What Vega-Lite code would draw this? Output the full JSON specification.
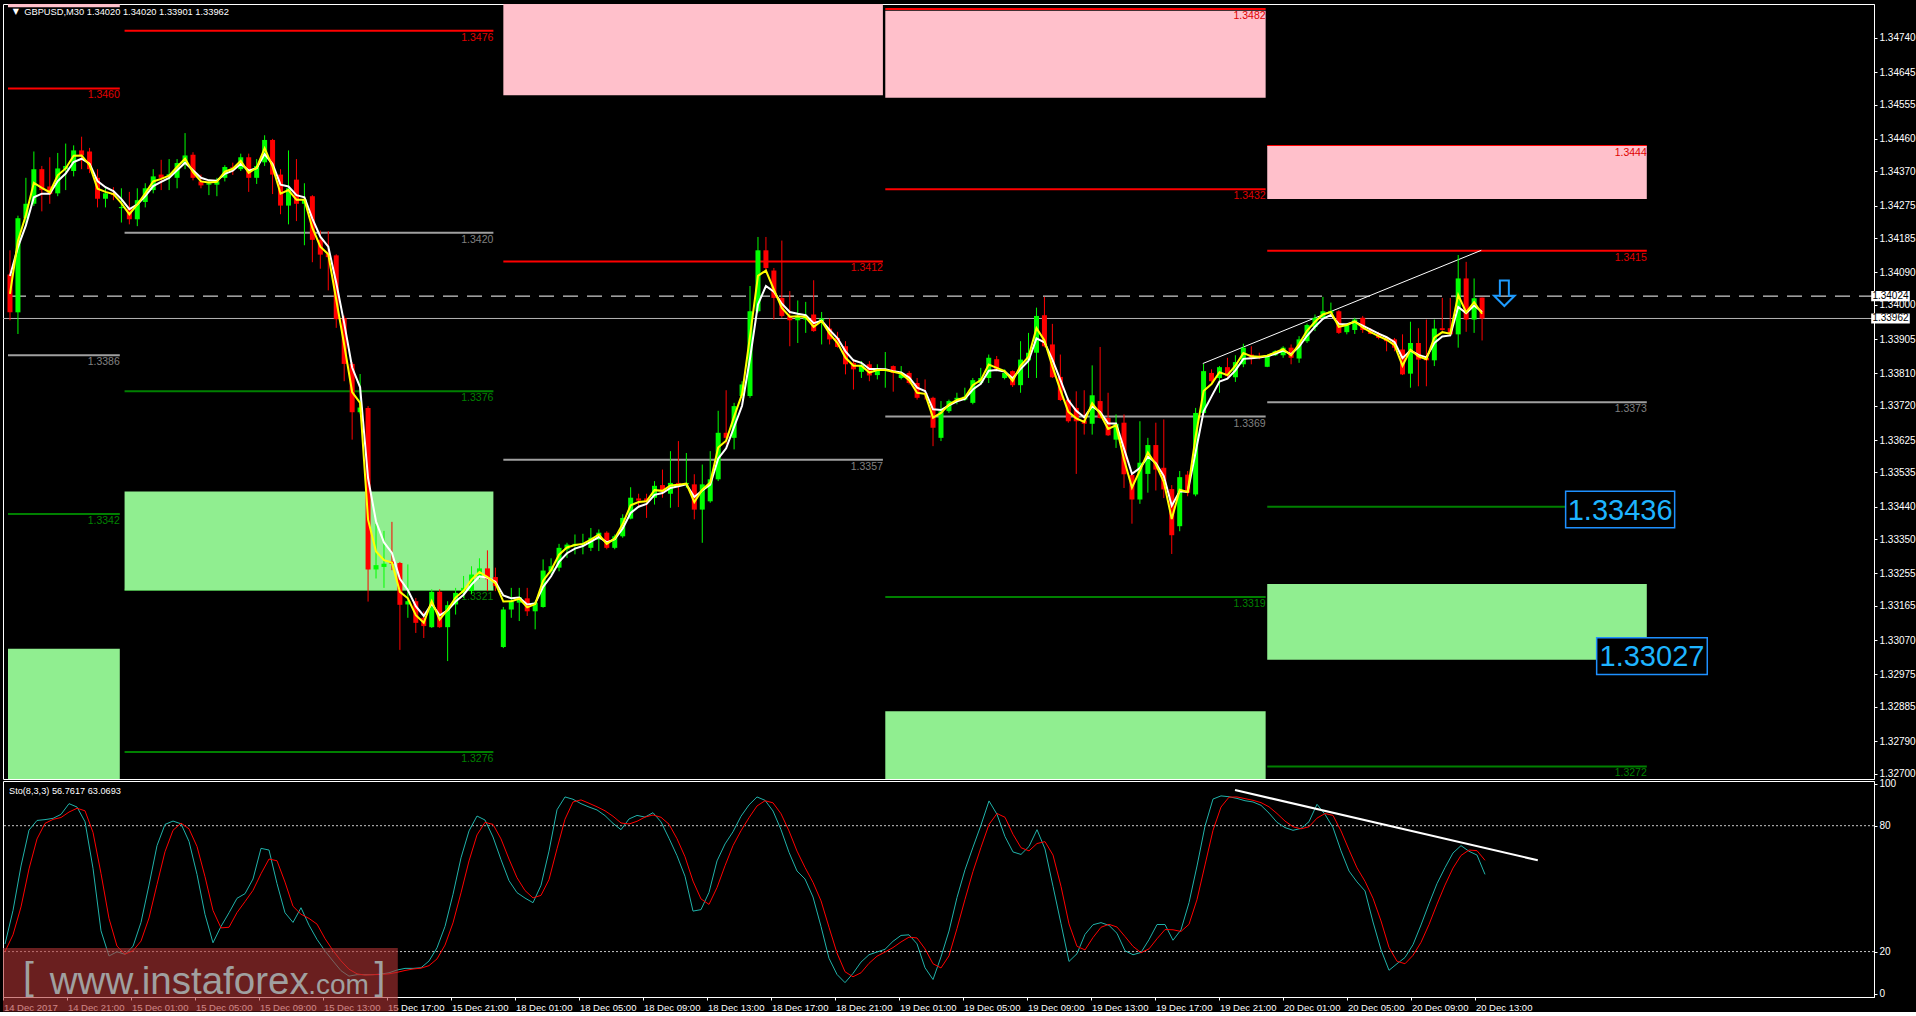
{
"$schema":"https://vega.github.io/schema/vega-lite/v6.json",
"background":"#000000",
"padding":{"left":2,"top":3,"right":0,"bottom":0},
"spacing":2,
"bounds":"flush",
"config":{"font":"Liberation Sans","view":{"stroke":"#ffffff","strokeWidth":1},"axis":{"grid":false,"labelColor":"#ffffff","tickColor":"#ffffff","domainColor":"#ffffff","labelFontSize":10,"tickSize":3,"labelPadding":2,"labelFont":"Liberation Sans"},"concat":{"spacing":2}},
"datasets":{
"bars":[
{"i":0,"o":1.34084,"h":1.34151,"l":1.33957,"c":1.33979,"f":1.3403,"s":1.3408,"k":23.6,"d":20},
{"i":1,"o":1.33979,"h":1.34247,"l":1.33919,"c":1.3424,"f":1.34177,"s":1.3416,"k":39.6,"d":28},
{"i":2,"o":1.3424,"h":1.34352,"l":1.34218,"c":1.3428,"f":1.34249,"s":1.3422,"k":60.8,"d":41.3},
{"i":3,"o":1.3428,"h":1.34425,"l":1.34274,"c":1.34376,"f":1.34338,"s":1.34298,"k":77.9,"d":59.4},
{"i":4,"o":1.34376,"h":1.34385,"l":1.34259,"c":1.34318,"f":1.34324,"s":1.34308,"k":82.5,"d":73.7},
{"i":5,"o":1.34328,"h":1.34409,"l":1.3428,"c":1.34307,"f":1.34312,"s":1.34308,"k":82.9,"d":81.1},
{"i":6,"o":1.34309,"h":1.34421,"l":1.34301,"c":1.34378,"f":1.34359,"s":1.34343,"k":83.5,"d":83},
{"i":7,"o":1.34376,"h":1.34447,"l":1.34318,"c":1.34385,"f":1.34378,"s":1.34364,"k":85.4,"d":83.9},
{"i":8,"o":1.34371,"h":1.34442,"l":1.34356,"c":1.34428,"f":1.34413,"s":1.34396,"k":90.5,"d":86.5},
{"i":9,"o":1.34428,"h":1.34466,"l":1.34376,"c":1.34414,"f":1.34414,"s":1.34405,"k":88.9,"d":88.3},
{"i":10,"o":1.34425,"h":1.34435,"l":1.34365,"c":1.34376,"f":1.34387,"s":1.34391,"k":81.9,"d":87.1},
{"i":11,"o":1.34352,"h":1.34376,"l":1.3427,"c":1.34294,"f":1.34322,"s":1.34343,"k":59.7,"d":76.8},
{"i":12,"o":1.34294,"h":1.34323,"l":1.3427,"c":1.34309,"f":1.34313,"s":1.34326,"k":29.9,"d":57.2},
{"i":13,"o":1.3431,"h":1.34326,"l":1.3429,"c":1.34304,"f":1.34307,"s":1.34315,"k":17.9,"d":35.8},
{"i":14,"o":1.34268,"h":1.34323,"l":1.34228,"c":1.34271,"f":1.34282,"s":1.34293,"k":19.9,"d":22.6},
{"i":15,"o":1.34266,"h":1.34313,"l":1.34223,"c":1.34237,"f":1.34251,"s":1.34265,"k":18.7,"d":18.8},
{"i":16,"o":1.34237,"h":1.34323,"l":1.34218,"c":1.3429,"f":1.34278,"s":1.34278,"k":22.5,"d":20.4},
{"i":17,"o":1.34285,"h":1.34337,"l":1.3427,"c":1.34323,"f":1.34309,"s":1.34301,"k":33.9,"d":25},
{"i":18,"o":1.34318,"h":1.34376,"l":1.34309,"c":1.34356,"f":1.34342,"s":1.34329,"k":51.7,"d":36},
{"i":19,"o":1.34361,"h":1.34402,"l":1.34318,"c":1.34352,"f":1.34349,"s":1.34341,"k":70.5,"d":52},
{"i":20,"o":1.34358,"h":1.34404,"l":1.34318,"c":1.34362,"f":1.34358,"s":1.34352,"k":80.6,"d":67.6},
{"i":21,"o":1.34352,"h":1.34404,"l":1.34323,"c":1.34393,"f":1.34382,"s":1.34373,"k":82.2,"d":77.8},
{"i":22,"o":1.3439,"h":1.34476,"l":1.34376,"c":1.34414,"f":1.34405,"s":1.34394,"k":80.9,"d":81.2},
{"i":23,"o":1.34416,"h":1.34423,"l":1.34345,"c":1.34352,"f":1.34368,"s":1.34373,"k":72.5,"d":78.5},
{"i":24,"o":1.34342,"h":1.34361,"l":1.34323,"c":1.34331,"f":1.34342,"s":1.34352,"k":56.8,"d":70.1},
{"i":25,"o":1.34333,"h":1.34347,"l":1.34304,"c":1.34337,"f":1.34339,"s":1.34345,"k":37.7,"d":55.7},
{"i":26,"o":1.34333,"h":1.34352,"l":1.34301,"c":1.34342,"f":1.34341,"s":1.34344,"k":24.2,"d":39.6},
{"i":27,"o":1.34352,"h":1.34387,"l":1.34342,"c":1.34382,"f":1.34369,"s":1.34363,"k":32,"d":31.3},
{"i":28,"o":1.34382,"h":1.34394,"l":1.3436,"c":1.3438,"f":1.34377,"s":1.34372,"k":38.5,"d":31.6},
{"i":29,"o":1.34376,"h":1.34419,"l":1.34371,"c":1.34409,"f":1.34399,"s":1.34391,"k":45.4,"d":38.6},
{"i":30,"o":1.34409,"h":1.34419,"l":1.34313,"c":1.34352,"f":1.34366,"s":1.34372,"k":47.6,"d":43.8},
{"i":31,"o":1.34352,"h":1.34404,"l":1.34335,"c":1.34385,"f":1.3438,"s":1.34379,"k":54.6,"d":49.2},
{"i":32,"o":1.34395,"h":1.3447,"l":1.34385,"c":1.34457,"f":1.34434,"s":1.34418,"k":69.2,"d":57.1},
{"i":33,"o":1.34457,"h":1.3446,"l":1.34307,"c":1.34361,"f":1.34383,"s":1.3439,"k":68.4,"d":64.1},
{"i":34,"o":1.34361,"h":1.34376,"l":1.34251,"c":1.34275,"f":1.34308,"s":1.34333,"k":52.4,"d":63.3},
{"i":35,"o":1.34275,"h":1.34428,"l":1.34223,"c":1.34323,"f":1.34318,"s":1.34328,"k":38.5,"d":53.1},
{"i":36,"o":1.34347,"h":1.34404,"l":1.34232,"c":1.3428,"f":1.34291,"s":1.34304,"k":33.9,"d":41.6},
{"i":37,"o":1.3428,"h":1.34337,"l":1.34165,"c":1.34292,"f":1.34291,"s":1.34298,"k":40.9,"d":37.8},
{"i":38,"o":1.34301,"h":1.34304,"l":1.34118,"c":1.3418,"f":1.34213,"s":1.34239,"k":32.6,"d":35.8},
{"i":39,"o":1.3418,"h":1.34206,"l":1.341,"c":1.34139,"f":1.34161,"s":1.34189,"k":25.8,"d":33.1},
{"i":40,"o":1.34141,"h":1.34204,"l":1.3404,"c":1.34132,"f":1.3414,"s":1.34161,"k":20.3,"d":26.2},
{"i":41,"o":1.34137,"h":1.3414,"l":1.33936,"c":1.3396,"f":1.34014,"s":1.34061,"k":15.5,"d":20.5},
{"i":42,"o":1.33963,"h":1.3397,"l":1.33788,"c":1.33836,"f":1.33889,"s":1.33949,"k":10.9,"d":15.6},
{"i":43,"o":1.33836,"h":1.33841,"l":1.33626,"c":1.33702,"f":1.33758,"s":1.33826,"k":8.3,"d":11.6},
{"i":44,"o":1.33702,"h":1.33808,"l":1.33698,"c":1.33715,"f":1.33728,"s":1.33771,"k":9,"d":9.4},
{"i":45,"o":1.33714,"h":1.33719,"l":1.33177,"c":1.33266,"f":1.33404,"s":1.33519,"k":9,"d":8.8},
{"i":46,"o":1.33266,"h":1.33392,"l":1.33241,"c":1.33278,"f":1.33316,"s":1.33399,"k":9,"d":9},
{"i":47,"o":1.33273,"h":1.33373,"l":1.33215,"c":1.33282,"f":1.33292,"s":1.33341,"k":9.3,"d":9.1},
{"i":48,"o":1.33289,"h":1.33398,"l":1.33264,"c":1.33282,"f":1.33285,"s":1.33312,"k":9.9,"d":9.4},
{"i":49,"o":1.33284,"h":1.33287,"l":1.33043,"c":1.33168,"f":1.33204,"s":1.3324,"k":11.2,"d":10.1},
{"i":50,"o":1.33169,"h":1.3328,"l":1.33132,"c":1.33178,"f":1.33186,"s":1.33209,"k":12,"d":11},
{"i":51,"o":1.33178,"h":1.33187,"l":1.3309,"c":1.33118,"f":1.33139,"s":1.33164,"k":12,"d":11.7},
{"i":52,"o":1.33132,"h":1.3315,"l":1.33076,"c":1.33109,"f":1.33118,"s":1.33137,"k":12.3,"d":12.1},
{"i":53,"o":1.33106,"h":1.33211,"l":1.33104,"c":1.33204,"f":1.33178,"s":1.33171,"k":15.5,"d":13.3},
{"i":54,"o":1.33204,"h":1.33211,"l":1.33104,"c":1.33106,"f":1.33127,"s":1.33139,"k":21.8,"d":16.5},
{"i":55,"o":1.33106,"h":1.33178,"l":1.33012,"c":1.33167,"f":1.33155,"s":1.33153,"k":32,"d":23.1},
{"i":56,"o":1.33169,"h":1.33215,"l":1.33141,"c":1.33201,"f":1.33188,"s":1.33177,"k":47.3,"d":33.7},
{"i":57,"o":1.33201,"h":1.33248,"l":1.33187,"c":1.33215,"f":1.33207,"s":1.33196,"k":64.7,"d":48},
{"i":58,"o":1.33206,"h":1.33275,"l":1.33197,"c":1.33252,"f":1.33238,"s":1.33224,"k":77.5,"d":63.2},
{"i":59,"o":1.33248,"h":1.33297,"l":1.33239,"c":1.33269,"f":1.33259,"s":1.33247,"k":84.6,"d":75.6},
{"i":60,"o":1.33269,"h":1.33319,"l":1.33206,"c":1.33239,"f":1.33245,"s":1.33243,"k":82.7,"d":81.6},
{"i":61,"o":1.33245,"h":1.33271,"l":1.33206,"c":1.3322,"f":1.33228,"s":1.33232,"k":74.6,"d":80.6},
{"i":62,"o":1.33051,"h":1.33162,"l":1.33048,"c":1.33155,"f":1.33177,"s":1.33194,"k":63.8,"d":73.7},
{"i":63,"o":1.33155,"h":1.33215,"l":1.33132,"c":1.33178,"f":1.33178,"s":1.33186,"k":53.8,"d":64.1},
{"i":64,"o":1.33174,"h":1.33215,"l":1.33123,"c":1.33189,"f":1.33185,"s":1.33188,"k":48.1,"d":55.2},
{"i":65,"o":1.33186,"h":1.33215,"l":1.33137,"c":1.3315,"f":1.33161,"s":1.33169,"k":45.5,"d":49.1},
{"i":66,"o":1.3315,"h":1.33178,"l":1.331,"c":1.33174,"f":1.3317,"s":1.33172,"k":43.3,"d":45.6},
{"i":67,"o":1.33162,"h":1.33294,"l":1.3316,"c":1.33263,"f":1.33235,"s":1.33218,"k":51.6,"d":46.8},
{"i":68,"o":1.33261,"h":1.33297,"l":1.33252,"c":1.33275,"f":1.33264,"s":1.33247,"k":67.9,"d":54.3},
{"i":69,"o":1.33271,"h":1.33337,"l":1.33261,"c":1.33326,"f":1.33307,"s":1.33287,"k":87.6,"d":69},
{"i":70,"o":1.33322,"h":1.3334,"l":1.33298,"c":1.33335,"f":1.33327,"s":1.33311,"k":93.7,"d":83.1},
{"i":71,"o":1.33331,"h":1.33363,"l":1.33308,"c":1.33337,"f":1.33334,"s":1.33324,"k":92.6,"d":91.3},
{"i":72,"o":1.33334,"h":1.33365,"l":1.33308,"c":1.33338,"f":1.33337,"s":1.33331,"k":90.5,"d":92.3},
{"i":73,"o":1.33326,"h":1.33381,"l":1.33317,"c":1.33354,"f":1.33349,"s":1.33343,"k":88.9,"d":90.7},
{"i":74,"o":1.33349,"h":1.33377,"l":1.33317,"c":1.33368,"f":1.33363,"s":1.33356,"k":87.5,"d":89},
{"i":75,"o":1.33368,"h":1.33372,"l":1.33322,"c":1.33326,"f":1.33337,"s":1.33341,"k":84.8,"d":87.1},
{"i":76,"o":1.33326,"h":1.33363,"l":1.33322,"c":1.33358,"f":1.33352,"s":1.3335,"k":81.1,"d":84.5},
{"i":77,"o":1.33358,"h":1.33419,"l":1.33354,"c":1.33409,"f":1.33392,"s":1.3338,"k":78.1,"d":81.3},
{"i":78,"o":1.33407,"h":1.33494,"l":1.33405,"c":1.33465,"f":1.33444,"s":1.33423,"k":83.2,"d":80.8},
{"i":79,"o":1.33463,"h":1.33476,"l":1.33442,"c":1.33457,"f":1.33453,"s":1.3344,"k":84.9,"d":82.1},
{"i":80,"o":1.33463,"h":1.33476,"l":1.33409,"c":1.33455,"f":1.33455,"s":1.33448,"k":84.1,"d":84.1},
{"i":81,"o":1.33465,"h":1.33511,"l":1.33446,"c":1.33498,"f":1.33486,"s":1.33473,"k":86.2,"d":85.1},
{"i":82,"o":1.335,"h":1.33543,"l":1.33465,"c":1.33483,"f":1.33484,"s":1.33478,"k":81.8,"d":84},
{"i":83,"o":1.33476,"h":1.33594,"l":1.33437,"c":1.33506,"f":1.33499,"s":1.33492,"k":74,"d":80.7},
{"i":84,"o":1.33506,"h":1.33622,"l":1.33439,"c":1.33502,"f":1.33501,"s":1.33497,"k":65.7,"d":73.8},
{"i":85,"o":1.33502,"h":1.33589,"l":1.33492,"c":1.33506,"f":1.33504,"s":1.33502,"k":55.9,"d":65.2},
{"i":86,"o":1.33502,"h":1.3353,"l":1.33405,"c":1.33432,"f":1.33453,"s":1.33467,"k":39.3,"d":53.6},
{"i":87,"o":1.33432,"h":1.33557,"l":1.3334,"c":1.33502,"f":1.33487,"s":1.33485,"k":40,"d":45.1},
{"i":88,"o":1.33455,"h":1.33594,"l":1.33451,"c":1.33516,"f":1.33507,"s":1.33501,"k":48.2,"d":42.5},
{"i":89,"o":1.33516,"h":1.33706,"l":1.33511,"c":1.33645,"f":1.33604,"s":1.33573,"k":63.2,"d":50.5},
{"i":90,"o":1.33645,"h":1.33763,"l":1.33613,"c":1.33631,"f":1.33623,"s":1.33602,"k":71.3,"d":60.9},
{"i":91,"o":1.33631,"h":1.33728,"l":1.33599,"c":1.33719,"f":1.3369,"s":1.33661,"k":77.1,"d":70.5},
{"i":92,"o":1.33747,"h":1.33788,"l":1.33742,"c":1.33779,"f":1.33752,"s":1.3372,"k":84.5,"d":77.6},
{"i":93,"o":1.33747,"h":1.34052,"l":1.33742,"c":1.33982,"f":1.33913,"s":1.33851,"k":89.9,"d":83.8},
{"i":94,"o":1.33982,"h":1.34188,"l":1.33978,"c":1.34151,"f":1.3408,"s":1.34001,"k":93.7,"d":89.4},
{"i":95,"o":1.34151,"h":1.34188,"l":1.34093,"c":1.34102,"f":1.34095,"s":1.34052,"k":92.1,"d":91.9},
{"i":96,"o":1.34095,"h":1.34102,"l":1.33959,"c":1.34019,"f":1.34042,"s":1.34036,"k":87,"d":90.9},
{"i":97,"o":1.34019,"h":1.34178,"l":1.33964,"c":1.33969,"f":1.33991,"s":1.34003,"k":78.1,"d":85.7},
{"i":98,"o":1.33969,"h":1.34038,"l":1.33885,"c":1.33957,"f":1.33967,"s":1.3398,"k":67.3,"d":77.5},
{"i":99,"o":1.33957,"h":1.34012,"l":1.33894,"c":1.33969,"f":1.33968,"s":1.33975,"k":58.4,"d":67.9},
{"i":100,"o":1.33959,"h":1.34008,"l":1.33922,"c":1.33966,"f":1.33966,"s":1.33971,"k":54.6,"d":60.1},
{"i":101,"o":1.33973,"h":1.34068,"l":1.33925,"c":1.33927,"f":1.33939,"s":1.33949,"k":46,"d":53},
{"i":102,"o":1.33955,"h":1.3398,"l":1.3389,"c":1.33962,"f":1.33955,"s":1.33956,"k":32,"d":44.2},
{"i":103,"o":1.33934,"h":1.33962,"l":1.3389,"c":1.33904,"f":1.3392,"s":1.3393,"k":16.8,"d":31.6},
{"i":104,"o":1.33908,"h":1.33925,"l":1.33881,"c":1.33883,"f":1.33894,"s":1.33907,"k":9.1,"d":19.3},
{"i":105,"o":1.33885,"h":1.33899,"l":1.33807,"c":1.33835,"f":1.33853,"s":1.33871,"k":5.2,"d":10.4},
{"i":106,"o":1.33839,"h":1.33844,"l":1.33765,"c":1.33821,"f":1.33831,"s":1.33846,"k":9.6,"d":8},
{"i":107,"o":1.33814,"h":1.33844,"l":1.33797,"c":1.33832,"f":1.33831,"s":1.33839,"k":15,"d":9.9},
{"i":108,"o":1.33835,"h":1.33844,"l":1.33788,"c":1.33804,"f":1.33812,"s":1.33822,"k":18.5,"d":14.4},
{"i":109,"o":1.33805,"h":1.33835,"l":1.33793,"c":1.33821,"f":1.33819,"s":1.33822,"k":19.8,"d":17.8},
{"i":110,"o":1.33818,"h":1.33869,"l":1.3377,"c":1.33822,"f":1.33819,"s":1.33821,"k":21.1,"d":19.8},
{"i":111,"o":1.3383,"h":1.33832,"l":1.33759,"c":1.33811,"f":1.33814,"s":1.33816,"k":24.9,"d":21.9},
{"i":112,"o":1.33797,"h":1.3383,"l":1.33793,"c":1.33807,"f":1.33809,"s":1.33812,"k":27.7,"d":24.6},
{"i":113,"o":1.33811,"h":1.33816,"l":1.33779,"c":1.33783,"f":1.33791,"s":1.33798,"k":28,"d":26.9},
{"i":114,"o":1.33783,"h":1.33797,"l":1.33737,"c":1.33742,"f":1.33756,"s":1.3377,"k":23.7,"d":26.5},
{"i":115,"o":1.33755,"h":1.33793,"l":1.33737,"c":1.33752,"f":1.33753,"s":1.33761,"k":12.3,"d":21.3},
{"i":116,"o":1.33742,"h":1.33745,"l":1.33608,"c":1.33659,"f":1.33687,"s":1.3371,"k":6.7,"d":14.2},
{"i":117,"o":1.33631,"h":1.33733,"l":1.33622,"c":1.33705,"f":1.337,"s":1.33708,"k":17.5,"d":12.2},
{"i":118,"o":1.33705,"h":1.33737,"l":1.337,"c":1.33733,"f":1.33723,"s":1.33721,"k":29.8,"d":18},
{"i":119,"o":1.33737,"h":1.33756,"l":1.33724,"c":1.33742,"f":1.33736,"s":1.33732,"k":45.8,"d":31},
{"i":120,"o":1.33737,"h":1.3377,"l":1.33733,"c":1.33745,"f":1.33743,"s":1.33739,"k":59,"d":44.9},
{"i":121,"o":1.33728,"h":1.33797,"l":1.33724,"c":1.33791,"f":1.33777,"s":1.33765,"k":69.8,"d":58.2},
{"i":122,"o":1.33783,"h":1.33825,"l":1.33779,"c":1.33797,"f":1.33791,"s":1.33781,"k":80.3,"d":69.7},
{"i":123,"o":1.33797,"h":1.33862,"l":1.33783,"c":1.33853,"f":1.33834,"s":1.33817,"k":91.8,"d":80.6},
{"i":124,"o":1.33849,"h":1.33858,"l":1.33816,"c":1.33821,"f":1.33825,"s":1.33819,"k":85.4,"d":85.8},
{"i":125,"o":1.33797,"h":1.33821,"l":1.33793,"c":1.33811,"f":1.33816,"s":1.33815,"k":74.8,"d":84},
{"i":126,"o":1.33816,"h":1.33818,"l":1.33772,"c":1.33777,"f":1.33789,"s":1.33796,"k":67.5,"d":75.9},
{"i":127,"o":1.33777,"h":1.33899,"l":1.33756,"c":1.33848,"f":1.33831,"s":1.33822,"k":66.3,"d":69.5},
{"i":128,"o":1.33846,"h":1.33922,"l":1.33797,"c":1.33867,"f":1.33856,"s":1.33845,"k":70.1,"d":68},
{"i":129,"o":1.33867,"h":1.33992,"l":1.33797,"c":1.33969,"f":1.33935,"s":1.33907,"k":78.1,"d":71.5},
{"i":130,"o":1.33971,"h":1.34022,"l":1.33882,"c":1.33885,"f":1.33901,"s":1.33896,"k":68.9,"d":72.4},
{"i":131,"o":1.3389,"h":1.33947,"l":1.33797,"c":1.33799,"f":1.33829,"s":1.33848,"k":51.1,"d":66},
{"i":132,"o":1.338,"h":1.33862,"l":1.33733,"c":1.33736,"f":1.33764,"s":1.33792,"k":33.3,"d":51.1},
{"i":133,"o":1.33737,"h":1.33742,"l":1.33673,"c":1.33677,"f":1.33703,"s":1.33735,"k":15.3,"d":33.2},
{"i":134,"o":1.33714,"h":1.3376,"l":1.33531,"c":1.33677,"f":1.33685,"s":1.33706,"k":19,"d":22.5},
{"i":135,"o":1.33679,"h":1.33763,"l":1.3364,"c":1.3367,"f":1.33675,"s":1.33688,"k":28.2,"d":20.8},
{"i":136,"o":1.3367,"h":1.33832,"l":1.3364,"c":1.33749,"f":1.33727,"s":1.33719,"k":32.8,"d":26.7},
{"i":137,"o":1.33733,"h":1.33883,"l":1.33684,"c":1.33686,"f":1.33698,"s":1.33703,"k":33.8,"d":31.6},
{"i":138,"o":1.33686,"h":1.33756,"l":1.33636,"c":1.33638,"f":1.33656,"s":1.33671,"k":32.5,"d":33},
{"i":139,"o":1.33626,"h":1.33696,"l":1.33603,"c":1.3367,"f":1.33666,"s":1.33671,"k":28.7,"d":31.7},
{"i":140,"o":1.33673,"h":1.33696,"l":1.33492,"c":1.3353,"f":1.33571,"s":1.33601,"k":20.4,"d":27.2},
{"i":141,"o":1.33528,"h":1.33532,"l":1.33393,"c":1.3346,"f":1.33493,"s":1.33531,"k":18.5,"d":22.5},
{"i":142,"o":1.3346,"h":1.33677,"l":1.33448,"c":1.33562,"f":1.33541,"s":1.33547,"k":19.6,"d":19.5},
{"i":143,"o":1.33531,"h":1.33631,"l":1.33479,"c":1.33611,"f":1.3359,"s":1.33579,"k":25.7,"d":21.3},
{"i":144,"o":1.33611,"h":1.33673,"l":1.33485,"c":1.33543,"f":1.33557,"s":1.33561,"k":32.9,"d":26.1},
{"i":145,"o":1.33548,"h":1.33682,"l":1.33464,"c":1.33488,"f":1.33509,"s":1.33525,"k":32.9,"d":30.5},
{"i":146,"o":1.33489,"h":1.335,"l":1.33309,"c":1.33361,"f":1.33406,"s":1.33443,"k":25.4,"d":30.4},
{"i":147,"o":1.33386,"h":1.33539,"l":1.33372,"c":1.33522,"f":1.33487,"s":1.33483,"k":30.4,"d":29.6},
{"i":148,"o":1.33529,"h":1.33539,"l":1.33469,"c":1.33479,"f":1.33481,"s":1.33481,"k":43.3,"d":33},
{"i":149,"o":1.33474,"h":1.33714,"l":1.33469,"c":1.337,"f":1.33634,"s":1.33591,"k":60.8,"d":44.8},
{"i":150,"o":1.337,"h":1.33836,"l":1.33696,"c":1.33816,"f":1.33761,"s":1.33704,"k":79.8,"d":61.3},
{"i":151,"o":1.33811,"h":1.33821,"l":1.33784,"c":1.33788,"f":1.3378,"s":1.33746,"k":92.7,"d":77.8},
{"i":152,"o":1.33797,"h":1.3383,"l":1.33756,"c":1.33827,"f":1.33813,"s":1.33787,"k":94.2,"d":88.9},
{"i":153,"o":1.33827,"h":1.33853,"l":1.33797,"c":1.33802,"f":1.33805,"s":1.33795,"k":93.8,"d":93.6},
{"i":154,"o":1.33799,"h":1.3386,"l":1.33786,"c":1.33841,"f":1.33831,"s":1.33818,"k":93,"d":93.7},
{"i":155,"o":1.33835,"h":1.33892,"l":1.33827,"c":1.33881,"f":1.33866,"s":1.3385,"k":91.9,"d":92.9},
{"i":156,"o":1.33862,"h":1.33885,"l":1.33835,"c":1.33853,"f":1.33857,"s":1.33852,"k":91.3,"d":92.1},
{"i":157,"o":1.33858,"h":1.33867,"l":1.33849,"c":1.33855,"f":1.33856,"s":1.33854,"k":89.7,"d":91},
{"i":158,"o":1.33828,"h":1.33862,"l":1.33827,"c":1.3386,"f":1.33859,"s":1.33857,"k":86,"d":89},
{"i":159,"o":1.3386,"h":1.33874,"l":1.33858,"c":1.33871,"f":1.33868,"s":1.33864,"k":81.6,"d":85.8},
{"i":160,"o":1.3386,"h":1.33885,"l":1.33853,"c":1.33881,"f":1.33877,"s":1.33873,"k":79.1,"d":82.2},
{"i":161,"o":1.33881,"h":1.3389,"l":1.33835,"c":1.33853,"f":1.3386,"s":1.33863,"k":77.8,"d":79.5},
{"i":162,"o":1.33851,"h":1.33913,"l":1.33839,"c":1.33904,"f":1.33891,"s":1.33884,"k":78.7,"d":78.5},
{"i":163,"o":1.33899,"h":1.33948,"l":1.33894,"c":1.33944,"f":1.33928,"s":1.33914,"k":81.9,"d":79.5},
{"i":164,"o":1.33938,"h":1.33973,"l":1.33927,"c":1.33964,"f":1.33953,"s":1.33939,"k":90.2,"d":83.6},
{"i":165,"o":1.33964,"h":1.34022,"l":1.33959,"c":1.33982,"f":1.33973,"s":1.33961,"k":85.4,"d":85.8},
{"i":166,"o":1.33978,"h":1.34006,"l":1.33973,"c":1.33983,"f":1.3398,"s":1.33972,"k":79.1,"d":84.9},
{"i":167,"o":1.33982,"h":1.33985,"l":1.33919,"c":1.33922,"f":1.33939,"s":1.33947,"k":68,"d":77.5},
{"i":168,"o":1.33924,"h":1.33948,"l":1.33918,"c":1.33945,"f":1.33944,"s":1.33946,"k":58.4,"d":68.5},
{"i":169,"o":1.3393,"h":1.33964,"l":1.33919,"c":1.33959,"f":1.33954,"s":1.33953,"k":53.2,"d":59.9},
{"i":170,"o":1.33964,"h":1.33969,"l":1.33922,"c":1.3393,"f":1.33937,"s":1.33942,"k":48.9,"d":53.5},
{"i":171,"o":1.3393,"h":1.33935,"l":1.33918,"c":1.33919,"f":1.33924,"s":1.33931,"k":34.1,"d":45.4},
{"i":172,"o":1.33919,"h":1.33925,"l":1.33904,"c":1.33908,"f":1.33913,"s":1.3392,"k":20.9,"d":34.6},
{"i":173,"o":1.33908,"h":1.33913,"l":1.33871,"c":1.33899,"f":1.33903,"s":1.3391,"k":11.1,"d":22},
{"i":174,"o":1.33904,"h":1.33908,"l":1.33871,"c":1.33881,"f":1.33888,"s":1.33896,"k":14.2,"d":15.4},
{"i":175,"o":1.33876,"h":1.33918,"l":1.33805,"c":1.33807,"f":1.33831,"s":1.33852,"k":17.2,"d":14.2},
{"i":176,"o":1.33809,"h":1.33953,"l":1.3377,"c":1.33894,"f":1.33875,"s":1.33873,"k":23.3,"d":18.2},
{"i":177,"o":1.33894,"h":1.33935,"l":1.33774,"c":1.33848,"f":1.33857,"s":1.33861,"k":32.7,"d":24.4},
{"i":178,"o":1.33853,"h":1.33959,"l":1.33774,"c":1.33846,"f":1.33849,"s":1.33854,"k":42.8,"d":32.9},
{"i":179,"o":1.33846,"h":1.33959,"l":1.3383,"c":1.33934,"f":1.33909,"s":1.33894,"k":52.4,"d":42.6},
{"i":180,"o":1.33935,"h":1.34019,"l":1.33928,"c":1.3393,"f":1.33924,"s":1.33912,"k":60,"d":51.7},
{"i":181,"o":1.33935,"h":1.34019,"l":1.33913,"c":1.33918,"f":1.3392,"s":1.33915,"k":67,"d":59.8},
{"i":182,"o":1.33918,"h":1.34138,"l":1.33881,"c":1.34073,"f":1.34027,"s":1.33994,"k":70.5,"d":65.8},
{"i":183,"o":1.34073,"h":1.34119,"l":1.33925,"c":1.33959,"f":1.33979,"s":1.33977,"k":67.8,"d":68.4},
{"i":184,"o":1.33959,"h":1.34073,"l":1.33922,"c":1.34018,"f":1.34007,"s":1.33998,"k":66,"d":68.1},
{"i":185,"o":1.3402,"h":1.3402,"l":1.33901,"c":1.33962,"f":1.33975,"s":1.3398,"k":56.8,"d":63.5}
],
"levels":[
{"x1":-0.25,"x2":13.8,"p":1.346,"k":"r","t":"1.3460"},
{"x1":-0.25,"x2":13.8,"p":1.3386,"k":"g","t":"1.3386"},
{"x1":-0.25,"x2":13.8,"p":1.3342,"k":"n","t":"1.3342"},
{"x1":14.4,"x2":60.75,"p":1.3476,"k":"r","t":"1.3476"},
{"x1":14.4,"x2":60.75,"p":1.342,"k":"g","t":"1.3420"},
{"x1":14.4,"x2":60.75,"p":1.3376,"k":"n","t":"1.3376"},
{"x1":14.4,"x2":60.75,"p":1.3321,"k":"n","t":"1.3321"},
{"x1":14.4,"x2":60.75,"p":1.3276,"k":"n","t":"1.3276"},
{"x1":62,"x2":109.7,"p":1.3412,"k":"r","t":"1.3412"},
{"x1":62,"x2":109.7,"p":1.3357,"k":"g","t":"1.3357"},
{"x1":110,"x2":157.8,"p":1.3482,"k":"r","t":"1.3482"},
{"x1":110,"x2":157.8,"p":1.3432,"k":"r","t":"1.3432"},
{"x1":110,"x2":157.8,"p":1.3369,"k":"g","t":"1.3369"},
{"x1":110,"x2":157.8,"p":1.3319,"k":"n","t":"1.3319"},
{"x1":158,"x2":205.7,"p":1.3444,"k":"r","t":"1.3444"},
{"x1":158,"x2":205.7,"p":1.3415,"k":"r","t":"1.3415"},
{"x1":158,"x2":205.7,"p":1.3373,"k":"g","t":"1.3373"},
{"x1":158,"x2":205.7,"p":1.3344,"k":"n","t":""},
{"x1":158,"x2":205.7,"p":1.3272,"k":"n","t":"1.3272"}
],
"zones":[
{"x1":-0.25,"x2":13.8,"p1":1.34834,"p2":1.34825,"z":"s"},
{"x1":62,"x2":109.7,"p1":1.34834,"p2":1.34581,"z":"s"},
{"x1":110,"x2":157.8,"p1":1.34815,"p2":1.34574,"z":"s"},
{"x1":158,"x2":205.7,"p1":1.3444,"p2":1.34293,"z":"s"},
{"x1":14.4,"x2":60.75,"p1":1.33482,"p2":1.33208,"z":"d"},
{"x1":-0.25,"x2":13.8,"p1":1.33046,"p2":1.32685,"z":"d"},
{"x1":110,"x2":157.8,"p1":1.32873,"p2":1.32685,"z":"d"},
{"x1":158,"x2":205.7,"p1":1.33226,"p2":1.33016,"z":"d"}
],
"bid":[{"p":1.33962}],
"ask":[{"p":1.34024}],
"trend":[{"i":149.9,"p":1.33837},{"i":184.9,"p":1.34151}],
"arrow":[{"i":187.8,"p":1.34032}],
"tboxes":[
{"x1":195.5,"x2":209.2,"p1":1.33483,"p2":1.33382,"xc":202.35,"pc":1.33432,"t":"1.33436"},
{"x1":199.4,"x2":213.3,"p1":1.33077,"p2":1.32975,"xc":206.35,"pc":1.33025,"t":"1.33027"}
],
"axspec":[
{"x1":233.9,"x2":238.75,"p1":1.34038,"p2":1.3401,"xt":234.05,"p":1.34024,"t":"1.34024"},
{"x1":233.9,"x2":238.75,"p1":1.33976,"p2":1.33948,"xt":234.05,"p":1.33962,"t":"1.33962"}
],
"tri":[{"i":0.35,"p":1.34812,"t":"▼"}],
"title":[{"i":1.79,"p":1.34812,"t":"GBPUSD,M30  1.34020 1.34020 1.33901 1.33962"}],
"slev":[{"v":80},{"v":20}],
"strend":[{"i":153.75,"v":97.0},{"i":191.6,"v":63.5}],
"slabel":[{"i":0.5,"v":96.5,"t":"Sto(8,3,3) 56.7617 63.0693"}],
"wmbox":[{"x1":-0.25,"x2":49.1,"v1":21.7,"v2":-8.5}],
"wm1":[{"i":2.25,"v":2.2,"t":"["}],
"wm2":[{"i":5.6,"v":-0.2,"t":"www.instaforex"}],
"wm3":[{"i":37.9,"v":-0.2,"t":".com"}],
"wm4":[{"i":46.2,"v":2.2,"t":"]"}]
},
"vconcat":[
{
"width":1871,"height":775,
"resolve":{"axis":{"x":"independent","y":"independent"}},
"layer":[
{"data":{"name":"levels"},"mark":{"type":"rule","strokeWidth":2},
 "encoding":{"x":{"field":"x1","type":"quantitative","scale":{"domain":[-0.25,233.625],"nice":false,"zero":false},"axis":null},"x2":{"field":"x2"},
 "y":{"field":"p","type":"quantitative","scale":{"domain":[1.32685,1.34834],"nice":false,"zero":false},
   "axis":{"orient":"right","title":null,"values":[1.3474,1.34645,1.34555,1.3446,1.3437,1.34275,1.34185,1.3409,1.34,1.33905,1.3381,1.3372,1.33625,1.33535,1.3344,1.3335,1.33255,1.33165,1.3307,1.32975,1.32885,1.3279,1.327],"format":".5f","labelOverlap":false,"labelFontSize":10,"tickSize":3,"labelPadding":2}},
 "color":{"condition":[{"test":"datum.k==='r'","value":"#ff0000"},{"test":"datum.k==='g'","value":"#a0a0a0"}],"value":"#008000"}}},
{"data":{"name":"zones"},"mark":{"type":"rect","opacity":1},
 "encoding":{"x":{"field":"x1","type":"quantitative","scale":{"domain":[-0.25,233.625],"nice":false,"zero":false},"axis":null},"x2":{"field":"x2"},
 "y":{"field":"p1","type":"quantitative","scale":{"domain":[1.32685,1.34834],"nice":false,"zero":false},"axis":null},"y2":{"field":"p2"},
 "color":{"condition":{"test":"datum.z==='s'","value":"#ffc0cb"},"value":"#90ee90"}}},
{"data":{"name":"levels"},"mark":{"type":"text","align":"right","baseline":"top","dy":2,"fontSize":10.5},
 "encoding":{"x":{"field":"x2","type":"quantitative","scale":{"domain":[-0.25,233.625],"nice":false,"zero":false},"axis":null},
 "y":{"field":"p","type":"quantitative","scale":{"domain":[1.32685,1.34834],"nice":false,"zero":false},"axis":null},
 "text":{"field":"t"},
 "color":{"condition":[{"test":"datum.k==='r'","value":"#e00000"},{"test":"datum.k==='g'","value":"#808080"}],"value":"#008000"}}},
{"data":{"name":"bid"},"mark":{"type":"rule","color":"#b4b4b4","strokeWidth":1},
 "encoding":{"y":{"field":"p","type":"quantitative","scale":{"domain":[1.32685,1.34834],"nice":false,"zero":false},"axis":null}}},
{"data":{"name":"ask"},"mark":{"type":"rule","color":"#ffffff","strokeWidth":1,"strokeDash":[15,9]},
 "encoding":{"y":{"field":"p","type":"quantitative","scale":{"domain":[1.32685,1.34834],"nice":false,"zero":false},"axis":null}}},
{"data":{"name":"trend"},"mark":{"type":"line","color":"#ffffff","strokeWidth":1},
 "encoding":{"x":{"field":"i","type":"quantitative","scale":{"domain":[-0.25,233.625],"nice":false,"zero":false},"axis":null},
 "y":{"field":"p","type":"quantitative","scale":{"domain":[1.32685,1.34834],"nice":false,"zero":false},"axis":null}}},
{"data":{"name":"bars"},"mark":{"type":"rule","strokeWidth":1},
 "encoding":{"x":{"field":"i","type":"quantitative","scale":{"domain":[-0.25,233.625],"nice":false,"zero":false},"axis":null},
 "y":{"field":"l","type":"quantitative","scale":{"domain":[1.32685,1.34834],"nice":false,"zero":false},"axis":null},"y2":{"field":"h"},
 "color":{"condition":{"test":"datum.c>=datum.o","value":"#00ff00"},"value":"#ff0000"}}},
{"data":{"name":"bars"},"mark":{"type":"bar","size":5,"orient":"vertical"},
 "encoding":{"x":{"field":"i","type":"quantitative","scale":{"domain":[-0.25,233.625],"nice":false,"zero":false},"axis":null},
 "y":{"field":"o","type":"quantitative","scale":{"domain":[1.32685,1.34834],"nice":false,"zero":false},"axis":null},"y2":{"field":"c"},
 "color":{"condition":{"test":"datum.c>=datum.o","value":"#00ff00"},"value":"#ff0000"}}},
{"data":{"name":"bars"},"mark":{"type":"line","color":"#ffffff","strokeWidth":2},
 "encoding":{"x":{"field":"i","type":"quantitative","scale":{"domain":[-0.25,233.625],"nice":false,"zero":false},"axis":null},
 "y":{"field":"s","type":"quantitative","scale":{"domain":[1.32685,1.34834],"nice":false,"zero":false},"axis":null}}},
{"data":{"name":"bars"},"mark":{"type":"line","color":"#ffff00","strokeWidth":2},
 "encoding":{"x":{"field":"i","type":"quantitative","scale":{"domain":[-0.25,233.625],"nice":false,"zero":false},"axis":null},
 "y":{"field":"f","type":"quantitative","scale":{"domain":[1.32685,1.34834],"nice":false,"zero":false},"axis":null}}},
{"data":{"name":"arrow"},"mark":{"type":"point","shape":"M-0.35,-1L0.35,-1L0.35,0.2L0.8,0.2L0,1L-0.8,0.2L-0.35,0.2Z","size":660,"filled":false,"stroke":"#1e9bff","strokeWidth":2,"opacity":1},
 "encoding":{"x":{"field":"i","type":"quantitative","scale":{"domain":[-0.25,233.625],"nice":false,"zero":false},"axis":null},
 "y":{"field":"p","type":"quantitative","scale":{"domain":[1.32685,1.34834],"nice":false,"zero":false},"axis":null}}},
{"data":{"name":"tboxes"},"mark":{"type":"rect","fill":"#000000","stroke":"#1e90ff","strokeWidth":1.5},
 "encoding":{"x":{"field":"x1","type":"quantitative","scale":{"domain":[-0.25,233.625],"nice":false,"zero":false},"axis":null},"x2":{"field":"x2"},
 "y":{"field":"p1","type":"quantitative","scale":{"domain":[1.32685,1.34834],"nice":false,"zero":false},"axis":null},"y2":{"field":"p2"}}},
{"data":{"name":"tboxes"},"mark":{"type":"text","fontSize":29,"color":"#1eb4ff","align":"center","baseline":"middle","dy":1},
 "encoding":{"x":{"field":"xc","type":"quantitative","scale":{"domain":[-0.25,233.625],"nice":false,"zero":false},"axis":null},
 "y":{"field":"pc","type":"quantitative","scale":{"domain":[1.32685,1.34834],"nice":false,"zero":false},"axis":null},"text":{"field":"t"}}},
{"data":{"name":"axspec"},"mark":{"type":"rect","fill":"#ffffff"},
 "encoding":{"x":{"field":"x1","type":"quantitative","scale":{"domain":[-0.25,233.625],"nice":false,"zero":false},"axis":null},"x2":{"field":"x2"},
 "y":{"field":"p1","type":"quantitative","scale":{"domain":[1.32685,1.34834],"nice":false,"zero":false},"axis":null},"y2":{"field":"p2"}}},
{"data":{"name":"axspec"},"mark":{"type":"text","fontSize":10,"color":"#000000","align":"left","baseline":"middle"},
 "encoding":{"x":{"field":"xt","type":"quantitative","scale":{"domain":[-0.25,233.625],"nice":false,"zero":false},"axis":null},
 "y":{"field":"p","type":"quantitative","scale":{"domain":[1.32685,1.34834],"nice":false,"zero":false},"axis":null},"text":{"field":"t"}}},
{"data":{"name":"tri"},"mark":{"type":"text","fontSize":8,"color":"#ffffff","align":"left","baseline":"middle","font":"DejaVu Sans"},
 "encoding":{"x":{"field":"i","type":"quantitative","scale":{"domain":[-0.25,233.625],"nice":false,"zero":false},"axis":null},
 "y":{"field":"p","type":"quantitative","scale":{"domain":[1.32685,1.34834],"nice":false,"zero":false},"axis":null},"text":{"field":"t"}}},
{"data":{"name":"title"},"mark":{"type":"text","fontSize":9.3,"color":"#ffffff","align":"left","baseline":"middle"},
 "encoding":{"x":{"field":"i","type":"quantitative","scale":{"domain":[-0.25,233.625],"nice":false,"zero":false},"axis":null},
 "y":{"field":"p","type":"quantitative","scale":{"domain":[1.32685,1.34834],"nice":false,"zero":false},"axis":null},"text":{"field":"t"}}}
]
},
{
"width":1871,"height":216,
"resolve":{"axis":{"x":"independent","y":"independent"}},
"layer":[
{"data":{"name":"slev"},"mark":{"type":"rule","color":"#c8c8c8","strokeWidth":1,"strokeDash":[2,2]},
 "encoding":{"y":{"field":"v","type":"quantitative","scale":{"domain":[-1.64,101.3],"nice":false,"zero":false},"axis":null}}},
{"data":{"name":"bars"},"mark":{"type":"line","color":"#20b2aa","strokeWidth":1},
 "encoding":{"x":{"field":"i","type":"quantitative","scale":{"domain":[-0.25,233.625],"nice":false,"zero":false},
   "axis":{"orient":"bottom","title":null,"values":[-0.2,7.8,15.8,23.8,31.8,39.8,47.8,55.8,63.8,71.8,79.8,87.8,95.8,103.8,111.8,119.8,127.8,135.8,143.8,151.8,159.8,167.8,175.8,183.8],
   "labelExpr":"['14 Dec 2017','14 Dec 21:00','15 Dec 01:00','15 Dec 05:00','15 Dec 09:00','15 Dec 13:00','15 Dec 17:00','15 Dec 21:00','18 Dec 01:00','18 Dec 05:00','18 Dec 09:00','18 Dec 13:00','18 Dec 17:00','18 Dec 21:00','19 Dec 01:00','19 Dec 05:00','19 Dec 09:00','19 Dec 13:00','19 Dec 17:00','19 Dec 21:00','20 Dec 01:00','20 Dec 05:00','20 Dec 09:00','20 Dec 13:00'][round((datum.value+0.2)/8)]",
   "labelAlign":"left","labelBaseline":"top","labelFontSize":9.5,"labelPadding":2,"tickSize":3,"labelOverlap":false,"labelFlush":false}},
 "y":{"field":"k","type":"quantitative","scale":{"domain":[-1.64,101.3],"nice":false,"zero":false},
   "axis":{"orient":"right","title":null,"values":[0,20,80,100],"format":"d","labelOverlap":false,"labelFontSize":10,"tickSize":3,"labelPadding":2}}}},
{"data":{"name":"bars"},"mark":{"type":"line","color":"#ff0000","strokeWidth":1},
 "encoding":{"x":{"field":"i","type":"quantitative","scale":{"domain":[-0.25,233.625],"nice":false,"zero":false},"axis":null},
 "y":{"field":"d","type":"quantitative","scale":{"domain":[-1.64,101.3],"nice":false,"zero":false},"axis":null}}},
{"data":{"name":"strend"},"mark":{"type":"line","color":"#ffffff","strokeWidth":2},
 "encoding":{"x":{"field":"i","type":"quantitative","scale":{"domain":[-0.25,233.625],"nice":false,"zero":false},"axis":null},
 "y":{"field":"v","type":"quantitative","scale":{"domain":[-1.64,101.3],"nice":false,"zero":false},"axis":null}}},
{"data":{"name":"slabel"},"mark":{"type":"text","fontSize":9.2,"color":"#ffffff","align":"left","baseline":"middle"},
 "encoding":{"x":{"field":"i","type":"quantitative","scale":{"domain":[-0.25,233.625],"nice":false,"zero":false},"axis":null},
 "y":{"field":"v","type":"quantitative","scale":{"domain":[-1.64,101.3],"nice":false,"zero":false},"axis":null},"text":{"field":"t"}}},
{"data":{"name":"wmbox"},"mark":{"type":"rect","fill":"#b03434","opacity":0.6},
 "encoding":{"x":{"field":"x1","type":"quantitative","scale":{"domain":[-0.25,233.625],"nice":false,"zero":false},"axis":null},"x2":{"field":"x2"},
 "y":{"field":"v1","type":"quantitative","scale":{"domain":[-1.64,101.3],"nice":false,"zero":false},"axis":null},"y2":{"field":"v2"}}},
{"data":{"name":"wm1"},"mark":{"type":"text","fontSize":39,"color":"#a0a0a0","align":"left","baseline":"alphabetic"},
 "encoding":{"x":{"field":"i","type":"quantitative","scale":{"domain":[-0.25,233.625],"nice":false,"zero":false},"axis":null},
 "y":{"field":"v","type":"quantitative","scale":{"domain":[-1.64,101.3],"nice":false,"zero":false},"axis":null},"text":{"field":"t"}}},
{"data":{"name":"wm2"},"mark":{"type":"text","fontSize":38.5,"color":"#a0a0a0","align":"left","baseline":"alphabetic"},
 "encoding":{"x":{"field":"i","type":"quantitative","scale":{"domain":[-0.25,233.625],"nice":false,"zero":false},"axis":null},
 "y":{"field":"v","type":"quantitative","scale":{"domain":[-1.64,101.3],"nice":false,"zero":false},"axis":null},"text":{"field":"t"}}},
{"data":{"name":"wm3"},"mark":{"type":"text","fontSize":28,"color":"#a0a0a0","align":"left","baseline":"alphabetic"},
 "encoding":{"x":{"field":"i","type":"quantitative","scale":{"domain":[-0.25,233.625],"nice":false,"zero":false},"axis":null},
 "y":{"field":"v","type":"quantitative","scale":{"domain":[-1.64,101.3],"nice":false,"zero":false},"axis":null},"text":{"field":"t"}}},
{"data":{"name":"wm4"},"mark":{"type":"text","fontSize":39,"color":"#a0a0a0","align":"left","baseline":"alphabetic"},
 "encoding":{"x":{"field":"i","type":"quantitative","scale":{"domain":[-0.25,233.625],"nice":false,"zero":false},"axis":null},
 "y":{"field":"v","type":"quantitative","scale":{"domain":[-1.64,101.3],"nice":false,"zero":false},"axis":null},"text":{"field":"t"}}}
]
}
]
}
